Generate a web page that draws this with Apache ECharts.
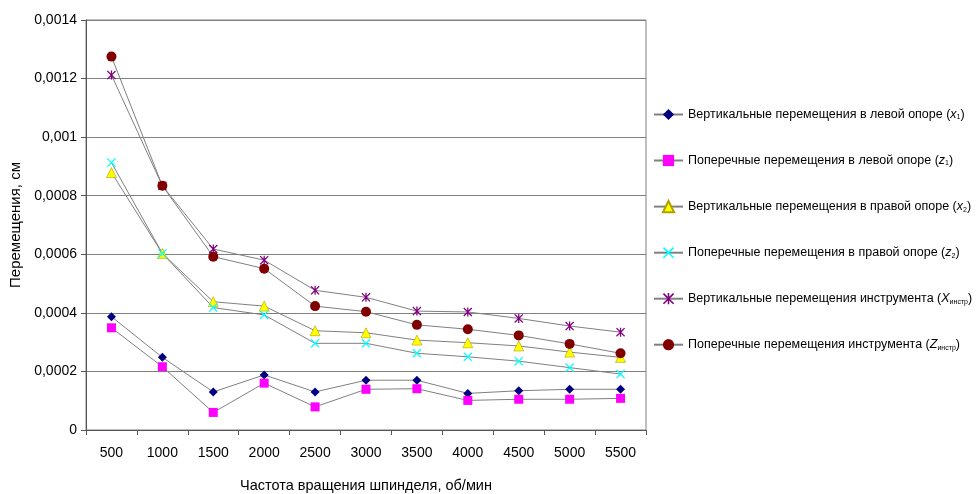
<!DOCTYPE html>
<html>
<head>
<meta charset="utf-8">
<script src="https://cdn.jsdelivr.net/npm/echarts@6/dist/echarts.min.js"></script>
<style>
  html, body { margin: 0; padding: 0; background: #fff; }
  #chart { width: 977px; height: 494px; }
</style>
</head>
<body>
<div id="chart"></div>
<script>
  // частота вращения шпинделя, об/мин
  var speeds = ['500', '1000', '1500', '2000', '2500', '3000', '3500', '4000', '4500', '5000', '5500'];
  var yTicks = ['0', '0,0002', '0,0004', '0,0006', '0,0008', '0,001', '0,0012', '0,0014'];

  // перемещения, см
  var x1Left = [0.000387, 0.000248, 0.00013, 0.000188, 0.00013, 0.00017, 0.00017, 0.000125, 0.000134, 0.000139, 0.000139];
  var z1Left = [0.000349, 0.000216, 0.00006, 0.00016, 0.000079, 0.000139, 0.000141, 0.000101, 0.000105, 0.000105, 0.000108];
  var x2Right = [0.000879, 0.000603, 0.000438, 0.000423, 0.000339, 0.000332, 0.000307, 0.000298, 0.000287, 0.000266, 0.000248];
  var z2Right = [0.000913, 0.000603, 0.000418, 0.000393, 0.000296, 0.000296, 0.000262, 0.00025, 0.000235, 0.000213, 0.000191];
  var xTool = [0.001212, 0.000834, 0.000618, 0.00058, 0.000477, 0.000453, 0.000406, 0.000403, 0.000381, 0.000355, 0.000334];
  var zTool = [0.001275, 0.000834, 0.000592, 0.000551, 0.000423, 0.000404, 0.000359, 0.000344, 0.000323, 0.000294, 0.000262];

  var seriesNames = [
    'Вертикальные перемещения в левой опоре',
    'Поперечные перемещения в левой опоре',
    'Вертикальные перемещения в правой опоре',
    'Поперечные перемещения в правой опоре',
    'Вертикальные перемещения инструмента',
    'Поперечные перемещения инструмента'
  ];
  var seriesVars = ['x', 'z', 'x', 'z', 'X', 'Z'];
  var seriesSubs = ['1', '1', '2', '2', 'инстр', 'инстр'];

  var crossPath = 'path://M0,1 L1,0 L5,4 L9,0 L10,1 L6,5 L10,9 L9,10 L5,6 L1,10 L0,9 L4,5 Z';
  var starPath = 'path://M0,1 L1,0 L5,4 L9,0 L10,1 L6,5 L10,9 L9,10 L5,6 L1,10 L0,9 L4,5 Z M4.3,0 L5.7,0 L5.7,10 L4.3,10 Z';

  var seriesData = [x1Left, z1Left, x2Right, z2Right, xTool, zTool];
  var colors = ['#000080', '#ff00ff', '#ffff00', '#00ffff', '#800080', '#800000'];
  var symbols = ['diamond', 'rect', 'triangle', crossPath, starPath, 'circle'];
  var sizes = [9, 9, 10, 9, 9, 10];

  var chart = echarts.init(document.getElementById('chart'));

  var series = seriesNames.map(function (name, i) {
    return {
      name: name,
      type: 'line',
      data: seriesData[i],
      symbol: symbols[i],
      symbolSize: sizes[i],
      showAllSymbol: true,
      animation: false,
      lineStyle: { color: '#808080', width: 1 },
      itemStyle: {
        color: colors[i],
        borderColor: i === 2 ? '#b0a000' : colors[i],
        borderWidth: i === 2 ? 0.6 : 0
      },
      emphasis: { disabled: true }
    };
  });

  chart.setOption({
    backgroundColor: '#fff',
    textStyle: { fontFamily: 'Liberation Sans, Arial, sans-serif' },
    grid: {
      left: 86, right: 331, top: 20, bottom: 64,
      outerBoundsMode: 'none',
      containLabel: false,
      show: true, borderColor: '#808080', borderWidth: 1
    },
    legend: {
      orient: 'vertical',
      left: 648,
      top: 103,
      itemGap: 33,
      itemWidth: 29,
      itemHeight: 14,
      selectedMode: false,
      data: seriesNames,
      formatter: function (name) {
        var i = seriesNames.indexOf(name);
        return name + ' ({v|' + seriesVars[i] + '}{s|' + seriesSubs[i] + '})';
      },
      textStyle: {
        color: '#000',
        fontSize: 12.5,
        rich: {
          v: { fontSize: 12.5, fontStyle: 'italic', color: '#000' },
          s: { fontSize: 7, color: '#000', verticalAlign: 'bottom', padding: [6, 0, 0, 0] }
        }
      }
    },
    xAxis: {
      type: 'category',
      data: speeds,
      boundaryGap: true,
      name: 'Частота вращения шпинделя, об/мин',
      nameLocation: 'middle',
      nameGap: 48,
      nameTextStyle: { color: '#000', fontSize: 14.5 },
      axisLine: { lineStyle: { color: '#555', width: 1 } },
      axisTick: { show: true, length: 5, lineStyle: { color: '#555' } },
      axisLabel: { color: '#000', fontSize: 14, margin: 16 },
      splitLine: { show: false }
    },
    yAxis: {
      type: 'value',
      min: 0,
      max: 0.0014,
      interval: 0.0002,
      name: 'Перемещения, см',
      nameLocation: 'middle',
      nameGap: 62,
      nameTextStyle: { color: '#000', fontSize: 15 },
      axisLine: { show: true, lineStyle: { color: '#555', width: 1 } },
      axisTick: { show: true, length: 5, lineStyle: { color: '#555' } },
      axisLabel: {
        color: '#000',
        fontSize: 14,
        margin: 9,
        formatter: function (v) { return yTicks[Math.round(v / 0.0002)]; }
      },
      splitLine: { show: true, lineStyle: { color: '#808080', width: 1 } }
    },
    series: series
  });
</script>
</body>
</html>
